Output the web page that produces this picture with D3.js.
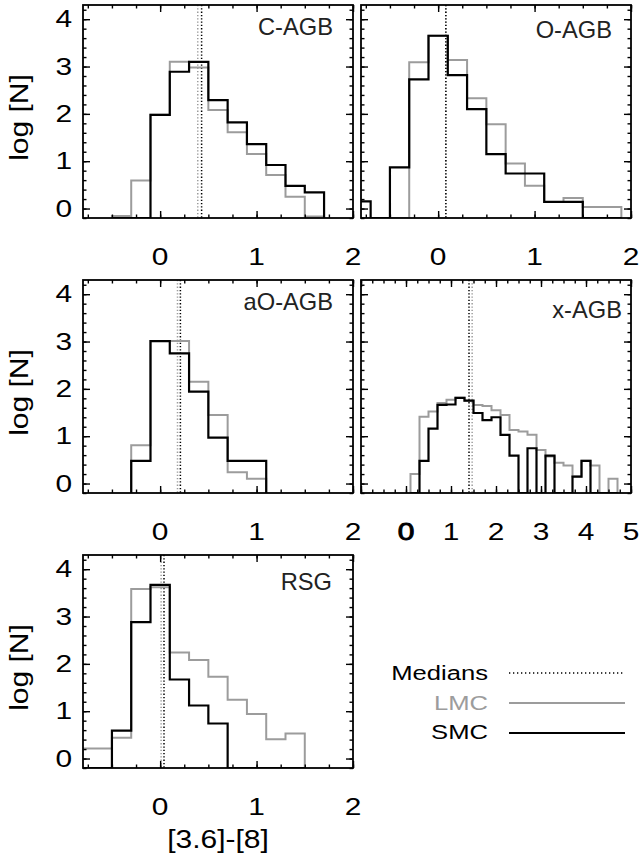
<!DOCTYPE html>
<html>
<head>
<meta charset="utf-8">
<script src="https://cdn.jsdelivr.net/npm/d3@7"></script>
<style>
  html, body { margin: 0; padding: 0; background: #fff; }
  svg { display: block; }
</style>
</head>
<body>
<script>
// ---------------- DATA ----------------
const panelNames = ["C-AGB", "O-AGB", "aO-AGB", "x-AGB", "RSG"];
const binWidth = 0.2;

const cagbBins = [-0.4, -0.2, 0.0, 0.2, 0.4, 0.6, 0.8, 1.0, 1.2, 1.4, 1.6];
const cagbLMC  = [-0.16, 0.59, 1.98, 3.10, 2.98, 2.08, 1.61, 1.15, 0.71, 0.25, -0.17];
const cagbSMC  = [null, null, 1.98, 2.89, 3.10, 2.29, 1.82, 1.36, 0.92, 0.48, 0.34];

const oagbBins = [-0.8, -0.6, -0.4, -0.2, 0.0, 0.2, 0.4, 0.6, 0.8, 1.0, 1.2, 1.4, 1.6, 1.8];
const oagbLMC  = [null, null, null, 3.09, 3.65, 3.14, 2.33, 1.78, 0.95, 0.48, 0.14, 0.22, 0.03, 0.03];
const oagbSMC  = [0.15, null, 0.87, 2.73, 3.65, 2.82, 2.10, 1.15, 0.74, 0.74, 0.14, 0.14, null, null];

const aoagbBins = [-0.2, 0.0, 0.2, 0.4, 0.6, 0.8, 1.0];
const aoagbLMC  = [0.81, 3.01, 3.01, 2.15, 1.45, 0.24, 0.10];
const aoagbSMC  = [0.48, 3.01, 2.75, 1.94, 0.97, 0.48, 0.48];

const xagbBins = [0.2, 0.4, 0.6, 0.8, 1.0, 1.2, 1.4, 1.6, 1.8, 2.0, 2.2, 2.4,
                  2.6, 2.8, 3.0, 3.2, 3.4, 3.6, 3.8, 4.0, 4.2, 4.4, 4.6];
const xagbLMC  = [0.20, 1.41, 1.52, 1.70, 1.77, 1.81, 1.75, 1.66, 1.64, 1.55, 1.45, 1.13,
                  1.10, 1.03, 0.71, 0.57, 0.44, 0.38, 0.15, 0.48, 0.38, null, 0.10];
const xagbSMC  = [null, 0.48, 1.16, 1.66, 1.67, 1.81, 1.75, 1.49, 1.34, 1.40, 1.03, 0.59,
                  null, 0.745, null, 0.59, null, null, 0.145, 0.48, null, null, null];

const rsgBins = [-0.8, -0.6, -0.4, -0.2, 0.0, 0.2, 0.4, 0.6, 0.8, 1.0, 1.2, 1.4];
const rsgLMC  = [0.21, 0.21, 0.44, 3.58, 3.62, 2.24, 2.08, 1.73, 1.24, 0.94, 0.41, 0.53];
const rsgSMC  = [null, null, 0.59, 2.88, 3.67, 1.67, 1.12, 0.74, null, null, null, null];

const medianLMC = [0.39, 0.08, 0.18, 1.47, 0.01];
const medianSMC = [0.43, 0.08, 0.21, 1.40, 0.04];

const xTickLabelsNarrow = [0, 1, 2];
const xTickLabelsWide   = [0, 1, 2, 3, 4, 5];
const yTickLabels       = [0, 1, 2, 3, 4];
const legendLabels      = ["Medians", "LMC", "SMC"];
const yAxisTitle = "log [N]";
const xAxisTitle = "[3.6]-[8]";

// ---------------- LAYOUT ----------------
const W = 639, H = 857;
const FONT = "'Liberation Sans', Arial, Helvetica, sans-serif";
const GRAY = "#9c9c9c";
const colX = [[83, 353], [361, 631]];
const rowTop = [5, 280, 555];
const panelH = 213;
const yDomain = [-0.2, 4.3];

const panels = [
  {name: panelNames[0], bins: cagbBins,  lmc: cagbLMC,  smc: cagbSMC,  col: 0, row: 0, wide: false, yLab: true,  tInset: 20, tBase: 30},
  {name: panelNames[1], bins: oagbBins,  lmc: oagbLMC,  smc: oagbSMC,  col: 1, row: 0, wide: false, yLab: false, tInset: 19, tBase: 33},
  {name: panelNames[2], bins: aoagbBins, lmc: aoagbLMC, smc: aoagbSMC, col: 0, row: 1, wide: false, yLab: true,  tInset: 20, tBase: 30},
  {name: panelNames[3], bins: xagbBins,  lmc: xagbLMC,  smc: xagbSMC,  col: 1, row: 1, wide: true,  yLab: false, tInset: 9,  tBase: 38},
  {name: panelNames[4], bins: rsgBins,   lmc: rsgLMC,   smc: rsgSMC,   col: 0, row: 2, wide: false, yLab: true,  tInset: 21, tBase: 35}
];

const svg = d3.select("body").append("svg")
  .attr("width", W).attr("height", H)
  .attr("viewBox", `0 0 ${W} ${H}`);
svg.append("rect").attr("width", W).attr("height", H).attr("fill", "#fff");

function stretchedText(g, str, x, y, size, sx, anchor, fill) {
  return g.append("text")
    .attr("transform", `translate(${x},${y}) scale(${sx},1)`)
    .attr("text-anchor", anchor)
    .attr("font-family", FONT)
    .attr("font-size", size)
    .attr("fill", fill || "#000")
    .text(str);
}

panels.forEach((p, i) => {
  const [x0, x1] = colX[p.col];
  const y0 = rowTop[p.row], y1 = y0 + panelH;
  const xDomain = p.wide ? [-1, 5] : [-0.8, 2.0];
  const x = d3.scaleLinear().domain(xDomain).range([x0, x1]);
  const y = d3.scaleLinear().domain(yDomain).range([y1, y0]);
  const g = svg.append("g");

  const clipId = "clip" + i;
  svg.append("clipPath").attr("id", clipId)
    .append("rect").attr("x", x0).attr("y", y0).attr("width", x1 - x0).attr("height", panelH);

  const plot = g.append("g").attr("clip-path", `url(#${clipId})`);

  // median lines
  [[medianLMC[i], GRAY], [medianSMC[i], "#000"]].forEach(([m, c]) => {
    plot.append("line")
      .attr("x1", x(m)).attr("x2", x(m))
      .attr("y1", y0).attr("y2", y1)
      .attr("stroke", c).attr("stroke-width", 1.5)
      .attr("stroke-dasharray", "1.3,2");
  });

  // histograms
  const line = d3.line().x(d => x(d[0])).y(d => y(d[1]));
  function stepPoints(bins, vals) {
    const base = yDomain[0];
    const pts = [[bins[0] - binWidth / 2, base]];
    bins.forEach((c, k) => {
      const v = vals[k] == null ? base : vals[k];
      pts.push([c - binWidth / 2, v], [c + binWidth / 2, v]);
    });
    pts.push([bins[bins.length - 1] + binWidth / 2, base]);
    return pts;
  }
  plot.append("path").attr("d", line(stepPoints(p.bins, p.lmc)))
    .attr("fill", "none").attr("stroke", GRAY).attr("stroke-width", 2)
    .attr("stroke-linejoin", "miter");
  plot.append("path").attr("d", line(stepPoints(p.bins, p.smc)))
    .attr("fill", "none").attr("stroke", "#000").attr("stroke-width", 2.2)
    .attr("stroke-linejoin", "miter");

  // ticks (inward) on all sides
  const xMinor = d3.range(Math.ceil(xDomain[0] / 0.25) * 0.25, xDomain[1] + 1e-9, 0.25);
  const xMajor = d3.range(Math.ceil(xDomain[0]), xDomain[1] + 1e-9, 1);
  const yMinor = d3.range(-0.2, 4.3 + 1e-9, 0.2);
  const yMajor = yTickLabels;

  function addAxis(axisGen, tx, ty) {
    const a = g.append("g").attr("transform", `translate(${tx},${ty})`).call(axisGen);
    a.select(".domain").remove();
    a.selectAll("line").attr("stroke", "#000").attr("stroke-width", 1.4);
    a.selectAll("text").remove();
  }
  addAxis(d3.axisBottom(x).tickValues(xMinor).tickSize(-3.5).tickFormat(""), 0, y1);
  addAxis(d3.axisBottom(x).tickValues(xMajor).tickSize(-7).tickFormat(""), 0, y1);
  addAxis(d3.axisTop(x).tickValues(xMinor).tickSize(-3.5).tickFormat(""), 0, y0);
  addAxis(d3.axisTop(x).tickValues(xMajor).tickSize(-7).tickFormat(""), 0, y0);
  addAxis(d3.axisLeft(y).tickValues(yMinor).tickSize(-3.5).tickFormat(""), x0, 0);
  addAxis(d3.axisLeft(y).tickValues(yMajor).tickSize(-7).tickFormat(""), x0, 0);
  addAxis(d3.axisRight(y).tickValues(yMinor).tickSize(-3.5).tickFormat(""), x1, 0);
  addAxis(d3.axisRight(y).tickValues(yMajor).tickSize(-7).tickFormat(""), x1, 0);

  // frame
  g.append("rect").attr("x", x0).attr("y", y0).attr("width", x1 - x0).attr("height", panelH)
    .attr("fill", "none").attr("stroke", "#000").attr("stroke-width", 1.8);

  // x tick labels
  const labs = p.wide ? xTickLabelsWide : xTickLabelsNarrow;
  labs.forEach(v => {
    const t = stretchedText(g, String(v), x(v), y1 + 47, 23, 1.3, "middle", "#000");
    if (p.wide && v === 0) t.attr("stroke", "#000").attr("stroke-width", 0.9);
  });

  // y tick labels
  if (p.yLab) {
    yTickLabels.forEach(v => {
      stretchedText(g, String(v), x0 - 11, y(v) + 8.2, 23, 1.3, "end", "#000");
    });
    g.append("text")
      .attr("transform", `translate(28,${y0 + panelH / 2 + 6}) rotate(-90) scale(1.2,1)`)
      .attr("text-anchor", "middle")
      .attr("font-family", FONT).attr("font-size", 25).attr("fill", "#000")
      .text(yAxisTitle);
  }

  // panel title
  stretchedText(g, p.name, x1 - p.tInset, y0 + p.tBase, 23, 1.03, "end", "#222");
});

// x axis title
stretchedText(svg, xAxisTitle, 218, 848, 25, 1.2, "middle", "#000");

// legend
const lg = svg.append("g");
const legendRows = [
  {label: legendLabels[0], color: "#000", base: 680, ly: 673, dash: "1.3,2.7", sw: 1.5},
  {label: legendLabels[1], color: GRAY,   base: 710, ly: 703, dash: null, sw: 2},
  {label: legendLabels[2], color: "#000", base: 739, ly: 733, dash: null, sw: 2.2}
];
legendRows.forEach(r => {
  stretchedText(lg, r.label, 488, r.base, 21, 1.22, "end", r.color);
  const l = lg.append("line").attr("x1", 509).attr("x2", 625).attr("y1", r.ly).attr("y2", r.ly)
    .attr("stroke", r.color).attr("stroke-width", r.sw);
  if (r.dash) l.attr("stroke-dasharray", r.dash);
});
</script>
</body>
</html>
